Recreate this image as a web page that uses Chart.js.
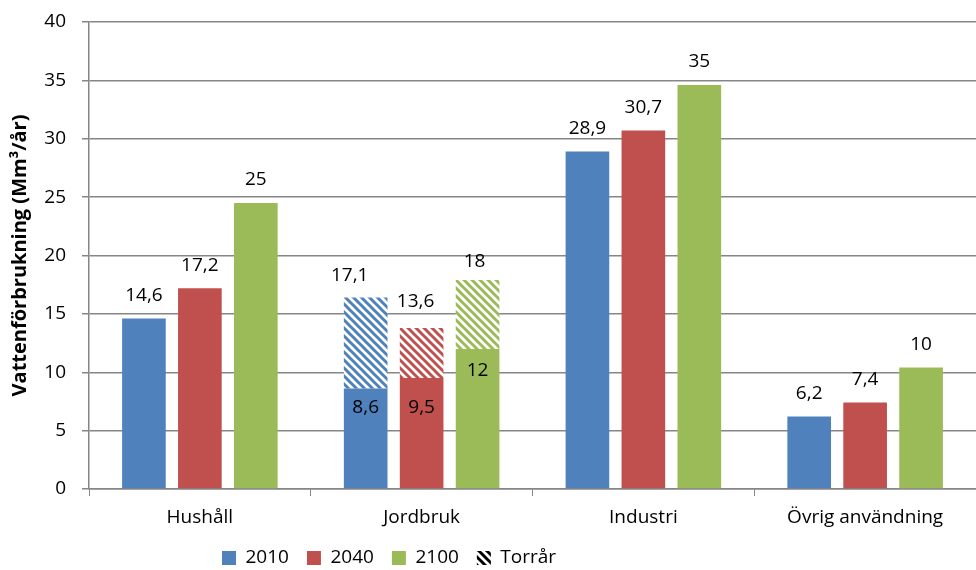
<!DOCTYPE html>
<html>
<head>
<meta charset="utf-8">
<script src="https://cdn.jsdelivr.net/npm/chart.js@4.4.0/dist/chart.umd.min.js"></script>
<style>
  html, body { margin: 0; padding: 0; background: #fff; overflow: hidden; }
  #wrap { width: 976px; height: 570px; }
</style>
</head>
<body>
<div id="wrap"><canvas id="chartVatten" width="976" height="570"></canvas></div>
<script>
// Data
const kategorier = ['Hushåll', 'Jordbruk', 'Industri', 'Övrig användning']
const serier = ['2010', '2040', '2100']
const varden2010 = [14.6, 8.6, 28.9, 6.2]
const varden2040 = [17.2, 9.5, 30.7, 7.4]
const varden2100 = [24.5, 12.0, 34.6, 10.4]
// extra volume in a dry year (only Jordbruk)
const torrar2010 = [null, 7.8, null, null]
const torrar2040 = [null, 4.3, null, null]
const torrar2100 = [null, 5.9, null, null]
// the value labels as printed
const etiketter2010 = ['14,6', '8,6', '28,9', '6,2']
const etiketter2040 = ['17,2', '9,5', '30,7', '7,4']
const etiketter2100 = ['25', '12', '35', '10']
const etiketterTorr2010 = [null, '17,1', null, null]
const etiketterTorr2040 = [null, '13,6', null, null]
const etiketterTorr2100 = [null, '18', null, null]
const yTicks = [0, 5, 10, 15, 20, 25, 30, 35, 40]

const farger = ['#4F81BD', '#C0504D', '#9BBB59']
const FONT = 'Open Sans'

function getHatch(color) {
    const c = document.createElement('canvas')
    c.width = 8
    c.height = 8
    const g = c.getContext('2d')
    g.fillStyle = '#ffffff'
    g.fillRect(0, 0, 8, 8)
    g.strokeStyle = color
    g.lineWidth = 3
    g.beginPath()
    for (let k = -8; k <= 8; k += 8) {
        g.moveTo(k - 1, -1)
        g.lineTo(k + 9, 9)
    }
    g.stroke()
    return g.createPattern(c, 'repeat')
}

const ctx = document.querySelector('#chartVatten').getContext('2d')

const basVarden = [varden2010, varden2040, varden2100]
const torrVarden = [torrar2010, torrar2040, torrar2100]
const basEtiketter = [etiketter2010, etiketter2040, etiketter2100]
const torrEtiketter = [etiketterTorr2010, etiketterTorr2040, etiketterTorr2100]

let datasets = []
serier.forEach((s, i) => {
    datasets.push({
        label: s,
        data: basVarden[i],
        backgroundColor: farger[i],
        stack: 's' + i,
        etiketter: basEtiketter[i],
        typ: 'bas'
    })
})
serier.forEach((s, i) => {
    datasets.push({
        label: 'Torrår ' + s,
        data: torrVarden[i],
        backgroundColor: getHatch(farger[i]),
        stack: 's' + i,
        etiketter: torrEtiketter[i],
        typ: 'torr'
    })
})

// draws the value labels
const etikettPlugin = {
    id: 'etiketter',
    afterDatasetsDraw(chart) {
        const c = chart.ctx
        c.save()
        c.font = '19px "' + FONT + '"'
        c.fillStyle = '#000'
        c.textAlign = 'center'
        c.textBaseline = 'middle'
        chart.data.datasets.forEach((ds, di) => {
            const meta = chart.getDatasetMeta(di)
            meta.data.forEach((bar, idx) => {
                const txt = ds.etiketter[idx]
                if (txt == null || ds.data[idx] == null) return
                let x = bar.x
                let y = bar.y - 23
                if (ds.typ === 'bas' && torrVarden[di][idx] != null) {
                    // label sits inside the solid part
                    y = bar.y + [19, 30, 22][di]
                }
                if (ds.typ === 'torr') {
                    const dx = [-16, -6, -3]
                    const dy = [-22, -26, -18]
                    x = bar.x + dx[di - 3]
                    y = bar.y + dy[di - 3]
                }
                c.fillText(txt, x, y)
            })
        })
        c.restore()
    }
}

// fixed legend height, moved left of centre like in the original
const legendFit = {
    id: 'legendFit',
    beforeInit(chart) {
        const origFit = chart.legend.fit
        chart.legend.fit = function () {
            origFit.bind(chart.legend)()
            this.height = 39.5
        }
    },
    afterLayout(chart) {
        chart.legend.left = 204
    }
}

const chart = new Chart(ctx, {
    type: 'bar',
    data: {
        labels: kategorier,
        datasets: datasets
    },
    plugins: [etikettPlugin, legendFit],
    options: {
        responsive: false,
        animation: false,
        layout: { padding: { top: 22, left: 0, right: -10, bottom: 0 } },
        datasets: {
            bar: {
                categoryPercentage: 0.757,
                barPercentage: 0.78
            }
        },
        scales: {
            x: {
                afterFit: scale => { scale.height = 41.5 },
                grid: {
                    display: true,
                    drawOnChartArea: false,
                    drawTicks: true,
                    tickLength: 7,
                    offset: true,
                    color: '#868686'
                },
                border: { color: '#868686', width: 1.5 },
                ticks: {
                    color: '#000',
                    font: { family: FONT, size: 19 },
                    padding: 10
                }
            },
            y: {
                stacked: true,
                min: 0,
                max: 40,
                afterFit: scale => {
                    scale.width = 89
                    scale.paddingTop = 0
                    scale.paddingBottom = 0
                },
                afterBuildTicks: axis => { axis.ticks = yTicks.map(v => ({ value: v })) },
                grid: {
                    color: '#868686',
                    lineWidth: 1.5,
                    tickLength: 7
                },
                border: { color: '#868686', width: 1.5 },
                ticks: {
                    color: '#000',
                    font: { family: FONT, size: 19 },
                    padding: 16
                },
                title: {
                    display: true,
                    text: 'Vattenförbrukning (Mm³/år)',
                    color: '#000',
                    font: { family: FONT, size: 20, weight: 'bold' },
                    padding: { top: 8, bottom: 0 }
                }
            }
        },
        plugins: {
            tooltip: { enabled: false },
            legend: {
                position: 'bottom',
                align: 'start',
                labels: {
                    color: '#000',
                    font: { family: FONT, size: 19 },
                    boxWidth: 14,
                    boxHeight: 14,
                    padding: 18,
                    generateLabels: () => {
                        const items = serier.map((s, i) => ({
                            text: s,
                            fillStyle: farger[i],
                            strokeStyle: farger[i],
                            lineWidth: 0,
                            hidden: false,
                            datasetIndex: i
                        }))
                        items.push({
                            text: 'Torrår',
                            fillStyle: getHatch('#000000'),
                            strokeStyle: '#fff',
                            lineWidth: 0,
                            hidden: false,
                            datasetIndex: 3
                        })
                        return items
                    }
                }
            }
        }
    }
})
</script>
</body>
</html>
